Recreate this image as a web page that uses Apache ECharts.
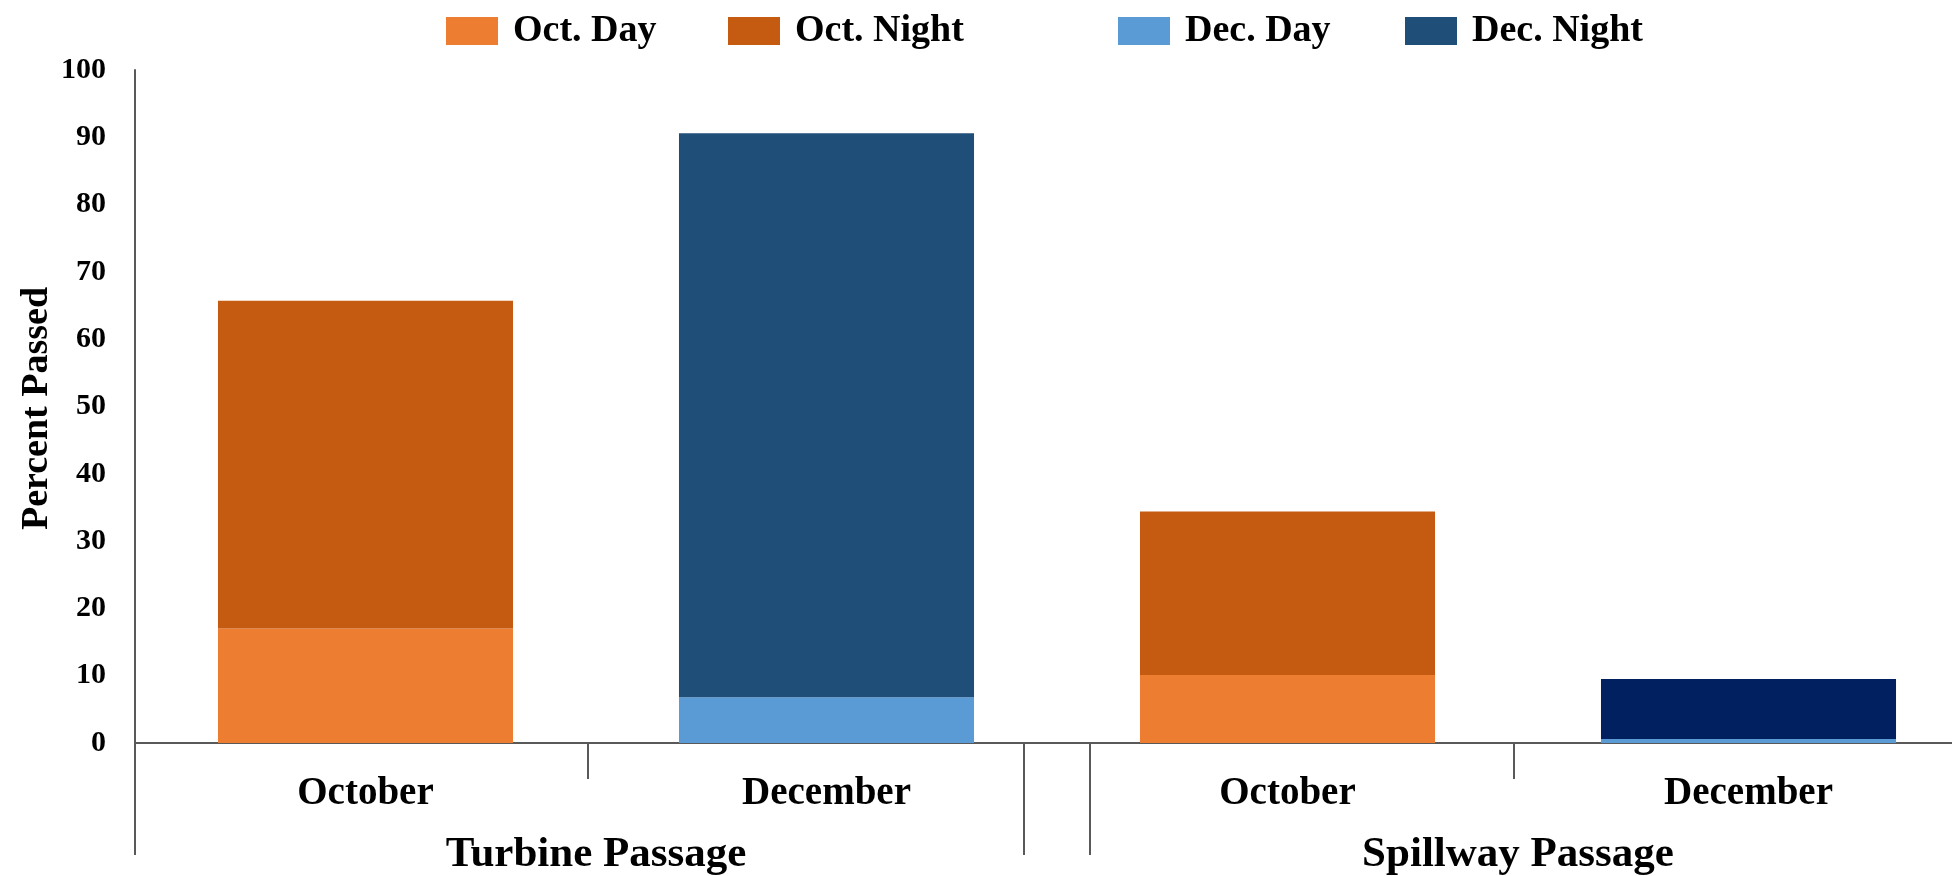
<!DOCTYPE html>
<html>
<head>
<meta charset="utf-8">
<script src="https://cdn.jsdelivr.net/npm/echarts@6/dist/echarts.min.js"></script>
<style>
  html, body { margin: 0; padding: 0; background: #ffffff; overflow: hidden; }
  /* The plot runs past the right edge of the window, so the canvas is wider than the view */
  #chart { width: 2000px; height: 876px; }
</style>
</head>
<body>
<div id="chart"></div>
<script>
// Month categories along the x axis and the passage group each pair belongs to
const months = ['October', 'December', 'October', 'December'];
const groups = ['Turbine Passage', 'Spillway Passage'];
const yTitle = 'Percent Passed';

// Percent passed, per category (Turbine Oct, Turbine Dec, Spillway Oct, Spillway Dec)
const octDay   = [17.0, '-', 10.1, '-'];
const octNight = [48.7, '-', 24.3, '-'];
const decDay   = ['-', 6.8, '-', 0.6];
const decNight = ['-', 83.8, '-', 8.9];

// Y axis range and step
const yMin = 0, yMax = 100, yStep = 10;

const FONT = '"Liberation Serif", "Times New Roman", serif';
const AXIS_COLOR = '#595959';
const COLORS = {
  octDay: '#ED7D31',
  octNight: '#C55A11',
  decDay: '#5B9BD5',
  decNight: '#1F4E79',
  spillDecNight: '#002060'
};

const chart = echarts.init(document.getElementById('chart'), null, { renderer: 'canvas' });

function legendAt(name, left) {
  return {
    data: [name],
    left: left,
    top: 12,
    padding: 0,
    itemWidth: 52,
    itemHeight: 28,
    icon: 'rect',
    selectedMode: false,
    textStyle: {
      fontFamily: FONT, fontWeight: 'bold', fontSize: 38, color: '#000',
      padding: [0, 0, 0, 10]
    }
  };
}

const barCommon = { type: 'bar', stack: 'total', barWidth: '64%' };

chart.setOption({
  animation: false,
  backgroundColor: '#ffffff',
  legend: [
    legendAt('Oct. Day', 446),
    legendAt('Oct. Night', 728),
    legendAt('Dec. Day', 1118),
    legendAt('Dec. Night', 1405)
  ],
  grid: { left: 135, top: 70, bottom: 133, right: 21, containLabel: false },
  xAxis: [
    {
      type: 'category',
      data: months,
      axisLine: { show: true, lineStyle: { color: AXIS_COLOR, width: 2 } },
      axisTick: { show: false },
      axisLabel: {
        interval: 0, margin: 31, color: '#000',
        fontFamily: FONT, fontWeight: 'bold', fontSize: 39
      },
      splitLine: { show: false }
    },
    {
      type: 'category',
      data: groups,
      position: 'bottom',
      offset: 84,
      axisLine: { show: false },
      axisTick: { show: false },
      axisLabel: {
        interval: 0, margin: 6, color: '#000',
        fontFamily: FONT, fontWeight: 'bold', fontSize: 43
      },
      splitLine: { show: false }
    }
  ],
  yAxis: {
    type: 'value',
    min: yMin, max: yMax, interval: yStep,
    axisLine: { show: true, lineStyle: { color: AXIS_COLOR, width: 2 } },
    axisTick: { show: false },
    splitLine: { show: false },
    axisLabel: {
      margin: 29, color: '#000',
      fontFamily: FONT, fontWeight: 'bold', fontSize: 30
    }
  },
  series: [
    Object.assign({ name: 'Oct. Day', data: octDay, itemStyle: { color: COLORS.octDay } }, barCommon),
    Object.assign({ name: 'Oct. Night', data: octNight, itemStyle: { color: COLORS.octNight } }, barCommon),
    Object.assign({ name: 'Dec. Day', data: decDay, itemStyle: { color: COLORS.decDay } }, barCommon),
    Object.assign({
      name: 'Dec. Night',
      data: decNight.map((v, i) =>
        i === 3 && v !== '-' ? { value: v, itemStyle: { color: COLORS.spillDecNight } } : v),
      itemStyle: { color: COLORS.decNight }
    }, barCommon)
  ]
});

// Decorations placed from the axis scales: the rotated y title, short ticks
// between months, and long lines bounding each passage group.
function drawDecorations() {
  const cx = months.map((_, i) => chart.convertToPixel({ xAxisIndex: 0 }, i));
  const y0 = chart.convertToPixel({ yAxisIndex: 0 }, yMin);
  const yTop = chart.convertToPixel({ yAxisIndex: 0 }, yMax);
  const band = cx[1] - cx[0];
  const shortLen = 36, longLen = 112, split = 33;
  const items = [];
  const addLine = (x, len) => items.push({
    type: 'line',
    shape: { x1: x, y1: y0, x2: x, y2: y0 + len },
    style: { stroke: AXIS_COLOR, lineWidth: 2 },
    silent: true
  });
  addLine((cx[0] + cx[1]) / 2 - 8, shortLen);
  addLine((cx[2] + cx[3]) / 2 - 4, shortLen);
  addLine(cx[0] - band / 2, longLen);
  const mid = (cx[1] + cx[2]) / 2;
  addLine(mid - split, longLen);
  addLine(mid + split, longLen);
  items.push({
    type: 'text',
    x: 37,
    y: (y0 + yTop) / 2 + 2,
    rotation: Math.PI / 2,
    silent: true,
    style: {
      text: yTitle,
      fontFamily: FONT, fontWeight: 'bold', fontSize: 38,
      fill: '#000',
      align: 'center', verticalAlign: 'middle'
    }
  });
  chart.setOption({ graphic: items });
}
drawDecorations();
</script>
</body>
</html>
